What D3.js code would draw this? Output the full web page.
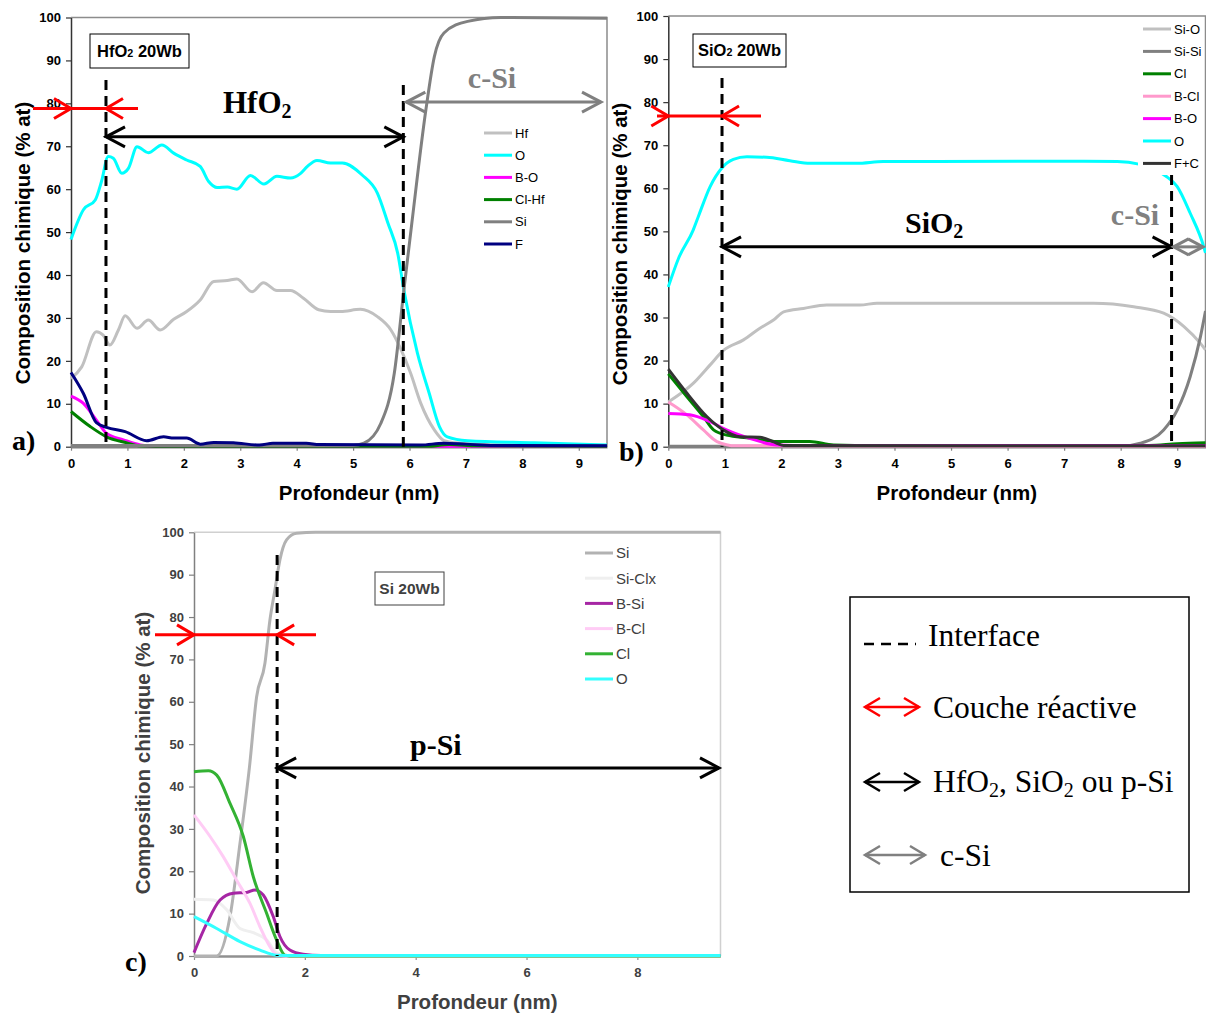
<!DOCTYPE html>
<html><head><meta charset="utf-8">
<script src="https://cdn.jsdelivr.net/npm/d3@7"></script>
<style>body{margin:0;background:#fff} svg{display:block}</style>
</head><body>
<svg id="chart" width="1206" height="1016"></svg>
<script>
// ---------- tick labels ----------
const depthTicksAB = [0,1,2,3,4,5,6,7,8,9];
const depthTicksC = [0,2,4,6,8];
const compTicks = [0,10,20,30,40,50,60,70,80,90,100];

// ---------- panel a : HfO2 20Wb  [depth nm, % at] ----------
const aNames = ["Hf","O","B-O","Cl-Hf","Si","F"];
const aHf = [[0,15.9],[0.19,18.6],[0.45,26.8],[0.57,26.0],[0.69,23.7],[0.84,27.2],[0.96,30.5],[1.17,27.6],[1.37,29.5],[1.58,27.2],[1.82,29.7],[2.05,31.5],[2.29,34.2],[2.53,38.5],[2.77,38.7],[2.94,39.1],[3.21,36.1],[3.41,38.2],[3.65,36.4],[3.89,36.4],[4.12,34.6],[4.39,31.9],[4.6,31.5],[4.78,31.5],[5.13,32.0],[5.43,30.3],[5.67,27.2],[5.84,22.9],[6.02,17.1],[6.2,10.1],[6.44,3.9],[6.61,1.4],[6.8,0.9],[7.2,0.6],[8,0.4],[9.5,0.3]];
const aO = [[0,48.3],[0.22,55.2],[0.43,57.5],[0.54,61.8],[0.66,67.6],[0.75,67.2],[0.9,63.7],[1.02,64.9],[1.17,69.9],[1.37,68.5],[1.61,70.3],[1.82,68.4],[2.05,66.8],[2.29,65.3],[2.44,61.8],[2.59,60.4],[2.77,60.5],[2.94,60.0],[3.18,63.2],[3.42,61.2],[3.65,63.0],[3.89,62.6],[4.07,63.7],[4.19,65.3],[4.36,66.7],[4.6,66.1],[4.81,66.1],[5.16,63.3],[5.43,59.1],[5.62,52.0],[5.79,45.1],[5.9,36.5],[6.14,21.8],[6.35,12.4],[6.53,4.7],[6.67,2.3],[7.03,1.4],[8.21,0.9],[9.5,0.4]];
const aBO = [[0,11.8],[0.22,10.1],[0.45,6.2],[0.63,3.1],[0.93,1.6],[1.23,0.4],[1.5,0.1],[9.5,0.1]];
const aClHf = [[0,8.2],[0.34,4.7],[0.63,2.3],[0.99,0.9],[1.2,0.2],[1.5,0.1],[6.3,0.1],[6.7,0.5],[7.2,0.2],[9.5,0.1]];
const aSi = [[0,0.3],[5.0,0.3],[5.19,0.8],[5.49,5.4],[5.73,17.1],[5.9,36.5],[6.04,52.0],[6.29,78.5],[6.44,90.9],[6.61,96.4],[7.03,99.1],[7.62,100],[9.5,99.8]];
const aF = [[0,17.3],[0.22,12.4],[0.45,5.6],[0.63,4.5],[0.96,3.5],[1.34,1.4],[1.64,2.3],[1.82,2.0],[2.05,2.0],[2.29,0.6],[2.53,1.0],[2.88,0.9],[3.34,0.4],[3.58,0.8],[4.17,0.8],[4.4,0.5],[6.2,0.4],[6.6,0.8],[7.0,0.6],[7.5,0.3],[9.5,0.2]];
const aInterfaces = [0.62, 5.89];

// ---------- panel b : SiO2 20Wb ----------
const bNames = ["Si-O","Si-Si","Cl","B-Cl","B-O","O","F+C"];
const bSiO = [[0,10.4],[0.44,14.7],[0.74,19.0],[0.97,22.3],[1.33,24.8],[1.62,27.5],[1.86,29.4],[2.04,31.3],[2.39,32.1],[2.8,32.9],[3.39,32.9],[3.69,33.3],[7.52,33.3],[8.23,32.5],[8.76,31.0],[9.12,27.9],[9.41,24.0],[9.5,22.5]];
const bSiSi = [[0,0.1],[8.0,0.1],[8.35,0.8],[8.76,3.9],[9.0,8.5],[9.23,16.3],[9.41,25.5],[9.5,31.5]];
const bCl = [[0,16.9],[0.33,11.6],[0.62,7.0],[0.8,3.9],[1.03,2.7],[1.45,2.0],[1.74,1.4],[2.03,1.2],[2.5,1.2],[2.92,0.4],[3.3,0.3],[8.5,0.3],[9.0,0.7],[9.5,0.9]];
const bBCl = [[0,10.4],[0.33,7.4],[0.62,3.9],[0.86,1.2],[1.2,0.2],[9.5,0.1]];
const bBO = [[0,7.7],[0.38,7.4],[0.74,5.8],[1.03,3.9],[1.45,1.9],[1.92,0.4],[2.2,0.3],[9.5,0.3]];
const bO = [[0,37.1],[0.18,43.7],[0.44,50.3],[0.53,53.4],[0.74,60.4],[0.94,64.6],[1.15,66.7],[1.39,67.3],[1.74,67.2],[2.15,66.4],[2.51,65.8],[3.33,65.8],[3.8,66.2],[7.35,66.3],[7.94,66.2],[8.32,65.6],[8.79,62.9],[9.0,60.4],[9.23,54.2],[9.47,46.4],[9.5,45.0]];
const bFC = [[0,18.0],[0.33,12.4],[0.68,7.0],[0.97,3.9],[1.27,2.3],[1.62,2.2],[1.92,0.8],[2.04,0.3],[9.5,0.2]];
const bInterfaces = [0.95, 8.9];

// ---------- panel c : Si 20Wb ----------
const cNames = ["Si","Si-Clx","B-Si","B-Cl","Cl","O"];
const cSi = [[0,0],[0.41,0],[0.65,9.3],[0.83,26.6],[1.0,44.5],[1.13,61.2],[1.28,69.1],[1.37,79.3],[1.46,86.4],[1.55,93.5],[1.67,98.2],[1.85,99.8],[2.2,100],[9.5,100]];
const cSiClx = [[0,13.4],[0.35,13.2],[0.59,10.9],[0.83,6.5],[1.07,5.5],[1.31,3.8],[1.49,0.8],[1.7,0],[9.5,0]];
const cBSi = [[0,0.8],[0.23,7.7],[0.47,13.2],[0.71,14.8],[0.95,15.0],[1.1,15.6],[1.25,14.4],[1.43,9.3],[1.55,4.6],[1.73,1.4],[1.97,0.4],[2.3,0.1],[9.5,0.1]];
const cBCl = [[0,33.3],[0.29,28.2],[0.53,23.4],[0.77,17.9],[1.01,12.4],[1.19,6.9],[1.37,2.2],[1.49,0.3],[1.7,0],[9.5,0]];
const cCl = [[0,43.5],[0.26,43.7],[0.41,42.7],[0.65,36.0],[0.89,28.2],[1.07,18.7],[1.31,10.1],[1.49,3.8],[1.64,0.2],[1.8,0],[9.5,0]];
const cO = [[0,9.3],[0.41,6.5],[0.83,3.4],[1.19,1.4],[1.49,0.2],[1.8,0.1],[9.5,0.1]];
const cInterfaces = [1.5];

// ---------- rendering ----------
const SANS = 'Arial, "Liberation Sans", sans-serif';
const SERIF = '"Times New Roman", "Liberation Serif", serif';
const svg = d3.select("#chart");

function arrowHead(g, x, y, dir, color, dx, dy, w) {
  g.append("path")
    .attr("d", `M${x - dir*dx},${y - dy} L${x},${y} L${x - dir*dx},${y + dy}`)
    .attr("fill", "none").attr("stroke", color).attr("stroke-width", w)
    .attr("stroke-linejoin", "miter");
}
function dblArrow(g, x1, x2, y, color, w = 3, dx = 19, dy = 10) {
  g.append("line").attr("x1", x1).attr("x2", x2).attr("y1", y).attr("y2", y)
    .attr("stroke", color).attr("stroke-width", w);
  arrowHead(g, x1, y, -1, color, dx, dy, w);
  arrowHead(g, x2, y, 1, color, dx, dy, w);
}
function inArrow(g, xa, xb, x1, x2, y, color) {
  g.append("line").attr("x1", xa).attr("x2", xb).attr("y1", y).attr("y2", y)
    .attr("stroke", color).attr("stroke-width", 3);
  arrowHead(g, x1, y, 1, color, 17, 10, 3);
  arrowHead(g, x2, y, -1, color, 17, 10, 3);
}

function panel(cfg) {
  const g = svg.append("g");
  const x = d3.scaleLinear().domain([0, 9.5]).range(cfg.xr);
  const y = d3.scaleLinear().domain([0, 100]).range(cfg.yr);

  g.append("path")
    .attr("d", `M${cfg.xr[0]},${cfg.yr[1]} H${cfg.xr[1]} V${cfg.yr[0]}`)
    .attr("fill", "none").attr("stroke", cfg.frame).attr("stroke-width", 1.5);

  const yAx = g.append("g").attr("transform", `translate(${cfg.xr[0]},0)`)
    .call(d3.axisLeft(y).tickValues(compTicks).tickSize(5).tickSizeOuter(0).tickPadding(5));
  yAx.select(".domain").attr("stroke", cfg.yAxisColor).attr("stroke-width", 1.5);
  yAx.selectAll(".tick line").attr("stroke", cfg.yAxisColor).attr("stroke-width", 1.2);
  yAx.selectAll("text").attr("font-family", SANS).attr("font-weight", "bold")
    .attr("font-size", 13).attr("fill", cfg.textColor);

  const xAx = g.append("g").attr("transform", `translate(0,${cfg.yr[0]})`)
    .call(d3.axisBottom(x).tickValues(cfg.xticks).tickSize(4).tickSizeOuter(0).tickPadding(8));
  xAx.select(".domain").attr("stroke", cfg.xAxisColor).attr("stroke-width", 2.5);
  xAx.selectAll(".tick line").attr("stroke", cfg.xAxisColor).attr("stroke-width", 1.2);
  xAx.selectAll("text").attr("font-family", SANS).attr("font-weight", "bold")
    .attr("font-size", 13).attr("fill", cfg.textColor);

  g.append("text").attr("x", (cfg.xr[0] + cfg.xr[1]) / 2 + 20).attr("y", cfg.yr[0] + 53)
    .attr("text-anchor", "middle").attr("font-family", SANS).attr("font-weight", "bold")
    .attr("font-size", 20.5).attr("fill", cfg.textColor).text("Profondeur (nm)");
  g.append("text").attr("transform", `translate(${cfg.yTitleX},${cfg.yTitleY}) rotate(-90)`)
    .attr("text-anchor", "middle").attr("font-family", SANS).attr("font-weight", "bold")
    .attr("font-size", 20.5).attr("fill", cfg.textColor).text("Composition chimique (% at)");

  const line = d3.line().x(d => x(d[0])).y(d => y(d[1])).curve(d3.curveMonotoneX);
  cfg.series.forEach(s => {
    g.append("path").datum(s.data).attr("d", line)
      .attr("fill", "none").attr("stroke", s.color).attr("stroke-width", 3)
      .attr("stroke-linejoin", "round");
  });

  const lg = g.append("g");
  if (cfg.legendBg) lg.append("rect").attr("x", cfg.legendBg[0]).attr("y", cfg.legendBg[1])
    .attr("width", cfg.legendBg[2]).attr("height", cfg.legendBg[3]).attr("fill", "#fff");
  cfg.series.forEach((s, i) => {
    const ly = cfg.legY + i * cfg.legStep;
    lg.append("line").attr("x1", cfg.legX).attr("x2", cfg.legX + 28).attr("y1", ly).attr("y2", ly)
      .attr("stroke", s.color).attr("stroke-width", 3);
    lg.append("text").attr("x", cfg.legX + 31).attr("y", ly + cfg.legFont * 0.36)
      .attr("font-family", SANS).attr("font-size", cfg.legFont).attr("fill", cfg.legTextColor)
      .text(s.name);
  });

  cfg.interfaces.forEach((d, i) => {
    g.append("line").attr("x1", x(d)).attr("x2", x(d))
      .attr("y1", cfg.dashTop[i]).attr("y2", cfg.yr[0])
      .attr("stroke", "#000").attr("stroke-width", 3).attr("stroke-dasharray", "10,6");
  });

  return {g, x, y};
}

function boxLabel(g, bx, by, bw, bh, name, sub, rest, color, fs) {
  g.append("rect").attr("x", bx).attr("y", by).attr("width", bw).attr("height", bh)
    .attr("fill", "#fff").attr("stroke", color).attr("stroke-width", 1);
  const t = g.append("text").attr("x", bx + bw / 2).attr("y", by + bh / 2 + fs * 0.36)
    .attr("text-anchor", "middle").attr("font-family", SANS)
    .attr("font-weight", "bold").attr("font-size", fs).attr("fill", color);
  t.append("tspan").text(name);
  if (sub) t.append("tspan").attr("font-size", fs * 0.65).text(sub);
  t.append("tspan").text(rest);
}

// ---- panel a
const A = panel({
  xr: [71, 607], yr: [446.7, 17.5], xticks: depthTicksAB,
  frame: "#8c8c8c", yAxisColor: "#333", xAxisColor: "#808080", textColor: "#000",
  yTitleX: 30, yTitleY: 243,
  series: [
    {name: aNames[0], data: aHf, color: "#c0c0c0"},
    {name: aNames[1], data: aO, color: "#00ffff"},
    {name: aNames[2], data: aBO, color: "#ff00ff"},
    {name: aNames[3], data: aClHf, color: "#008000"},
    {name: aNames[4], data: aSi, color: "#808080"},
    {name: aNames[5], data: aF, color: "#000080"}
  ],
  legX: 484, legY: 133, legStep: 22.2, legFont: 13, legTextColor: "#000",
  interfaces: aInterfaces, dashTop: [80, 85]
});
{
  const {g, x, y} = A;
  inArrow(g, 33, 138, x(0), x(aInterfaces[0]), y(78.8), "#ff0000");
  dblArrow(g, x(aInterfaces[0]), x(aInterfaces[1]), y(72.2), "#000");
  dblArrow(g, x(aInterfaces[1]) + 3, 601, y(80.3), "#808080");
  const t = g.append("text").attr("x", 223).attr("y", 113).attr("font-family", SERIF)
    .attr("font-weight", "bold").attr("font-size", 31).attr("fill", "#000");
  t.append("tspan").text("HfO");
  t.append("tspan").attr("font-size", 20).attr("dy", 5).text("2");
  g.append("text").attr("x", 492).attr("y", 88).attr("text-anchor", "middle").attr("font-family", SERIF)
    .attr("font-weight", "bold").attr("font-size", 30).attr("fill", "#808080").text("c-Si");
  boxLabel(g, 90, 34, 99, 34, "HfO", "2", " 20Wb", "#000", 16.5);
  g.append("text").attr("x", 12).attr("y", 450).attr("font-family", SERIF).attr("font-weight", "bold")
    .attr("font-size", 28).text("a)");
}

// ---- panel b
const B = panel({
  xr: [668.3, 1205.5], yr: [446.7, 16], xticks: depthTicksAB,
  frame: "#8c8c8c", yAxisColor: "#333", xAxisColor: "#808080", textColor: "#000",
  yTitleX: 627, yTitleY: 244,
  series: [
    {name: bNames[0], data: bSiO, color: "#c0c0c0"},
    {name: bNames[1], data: bSiSi, color: "#808080"},
    {name: bNames[2], data: bCl, color: "#008000"},
    {name: bNames[3], data: bBCl, color: "#ff99cc"},
    {name: bNames[4], data: bBO, color: "#ff00ff"},
    {name: bNames[5], data: bO, color: "#00ffff"},
    {name: bNames[6], data: bFC, color: "#333333"}
  ],
  legX: 1143, legY: 29, legStep: 22.4, legFont: 13, legTextColor: "#000",
  legendBg: [1138, 18, 66, 157],
  interfaces: bInterfaces, dashTop: [78, 175]
});
{
  const {g, x, y} = B;
  inArrow(g, 657, 761, x(0), x(bInterfaces[0]), y(76.8), "#ff0000");
  dblArrow(g, x(bInterfaces[0]), x(bInterfaces[1]), y(46.4), "#000");
  dblArrow(g, x(bInterfaces[1]) + 2, 1203, y(46.4), "#808080", 3, 15, 8);
  const t = g.append("text").attr("x", 905).attr("y", 233).attr("font-family", SERIF)
    .attr("font-weight", "bold").attr("font-size", 30).attr("fill", "#000");
  t.append("tspan").text("SiO");
  t.append("tspan").attr("font-size", 20).attr("dy", 5).text("2");
  g.append("text").attr("x", 1135).attr("y", 225).attr("text-anchor", "middle").attr("font-family", SERIF)
    .attr("font-weight", "bold").attr("font-size", 30).attr("fill", "#808080").text("c-Si");
  boxLabel(g, 693, 34, 93, 33, "SiO", "2", " 20Wb", "#000", 16.5);
  g.append("text").attr("x", 619).attr("y", 461).attr("font-family", SERIF).attr("font-weight", "bold")
    .attr("font-size", 28).text("b)");
}

// ---- panel c
const C = panel({
  xr: [194, 720.5], yr: [956, 532.3], xticks: depthTicksC,
  frame: "#d0d0d0", yAxisColor: "#808080", xAxisColor: "#909090", textColor: "#404040",
  yTitleX: 150, yTitleY: 753,
  series: [
    {name: cNames[0], data: cSi, color: "#b2b2b2"},
    {name: cNames[1], data: cSiClx, color: "#efefef"},
    {name: cNames[2], data: cBSi, color: "#a626a4"},
    {name: cNames[3], data: cBCl, color: "#ffccf5"},
    {name: cNames[4], data: cCl, color: "#33b233"},
    {name: cNames[5], data: cO, color: "#33ffff"}
  ],
  legX: 585, legY: 553, legStep: 25.2, legFont: 15, legTextColor: "#404040",
  interfaces: cInterfaces, dashTop: [555]
});
{
  const {g, x, y} = C;
  inArrow(g, 155, 316, x(0), x(cInterfaces[0]), y(75.8), "#ff0000");
  dblArrow(g, x(cInterfaces[0]), 719, y(44.4), "#000");
  g.append("text").attr("x", 410).attr("y", 755).attr("font-family", SERIF)
    .attr("font-weight", "bold").attr("font-size", 30).attr("fill", "#000").text("p-Si");
  boxLabel(g, 375, 572, 69, 33, "Si 20Wb", null, "", "#404040", 15.5);
  g.append("text").attr("x", 125).attr("y", 971).attr("font-family", SERIF).attr("font-weight", "bold")
    .attr("font-size", 28).text("c)");
}

// ---- key box
{
  const g = svg.append("g");
  g.append("rect").attr("x", 850).attr("y", 597).attr("width", 339).attr("height", 295)
    .attr("fill", "#fff").attr("stroke", "#000").attr("stroke-width", 1.5);
  g.append("line").attr("x1", 864).attr("x2", 916).attr("y1", 644).attr("y2", 644)
    .attr("stroke", "#000").attr("stroke-width", 2.5).attr("stroke-dasharray", "10,7");
  dblArrow(g, 865, 919, 707, "#ff0000", 2.5, 15, 9);
  dblArrow(g, 865, 919, 782, "#000", 2.5, 15, 9);
  dblArrow(g, 865, 925, 855, "#808080", 2.5, 15, 9);
  const txt = (xx, yy) => g.append("text").attr("x", xx).attr("y", yy).attr("font-family", SERIF)
    .attr("font-size", 31.5).attr("fill", "#000");
  txt(928, 646).text("Interface");
  txt(933, 718).text("Couche réactive");
  const t3 = txt(933, 792);
  t3.append("tspan").text("HfO");
  t3.append("tspan").attr("font-size", 20).attr("dy", 5).text("2");
  t3.append("tspan").attr("dy", -5).text(", SiO");
  t3.append("tspan").attr("font-size", 20).attr("dy", 5).text("2");
  t3.append("tspan").attr("dy", -5).text(" ou p-Si");
  txt(940, 866).text("c-Si");
}
</script>
</body></html>
